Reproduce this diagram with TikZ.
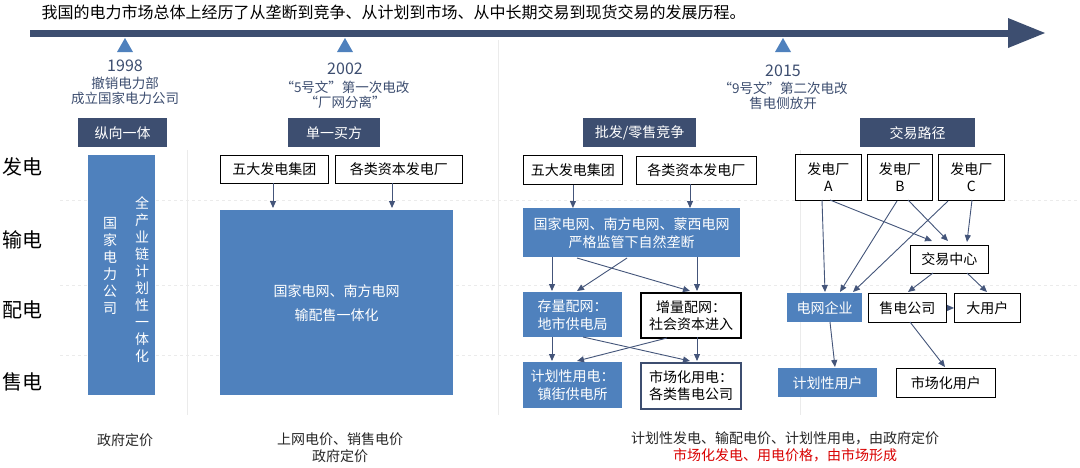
\documentclass[tikz,border=0pt]{standalone}
\usepackage{fontspec}
\setmainfont{Noto Sans CJK SC}
\usetikzlibrary{arrows.meta}
\definecolor{navy}{HTML}{3D4E70}
\definecolor{mblue}{HTML}{4F81BD}
\definecolor{arr}{HTML}{44557A}
\tikzset{
 x=1pt,y=-1pt,
 hdr/.style={fill=navy,text=white,font=\fontsize{14}{16}\selectfont,inner sep=0},
 wbox/.style={draw=black,line width=0.9pt,fill=white,font=\fontsize{14}{17}\selectfont,inner sep=0,align=center},
 bbox/.style={fill=mblue,text=white,font=\fontsize{14}{18}\selectfont,inner sep=0,align=center},
 ar/.style={draw=arr,line width=0.9pt,-{Triangle[length=7pt,width=6pt]}},
 lbl/.style={font=\fontsize{14}{16}\selectfont,align=center,text=black!85},
 tl/.style={font=\fontsize{13.5}{15.5}\selectfont,align=center,text=navy},
 row/.style={font=\fontsize{20}{21}\selectfont},
 sep/.style={draw=black!8,line width=0.6pt},
}
\newcommand{\bx}[5]{\node[#1,minimum width=#4-#2,minimum height=#5-#3,anchor=north west] at (#2,#3)}
\begin{document}
\begin{tikzpicture}
\useasboundingbox (0,0) rectangle (1080,467);
\fill[white] (0,0) rectangle (1080,467);
% separators
\draw[sep] (187,150)--(187,415);
\draw[sep] (498,40)--(498,415);
\draw[sep] (800,150)--(800,415);
\draw[sep,dashed] (60,200)--(1080,200);
\draw[sep,dashed] (60,285)--(1080,285);
\draw[sep,dashed] (60,355)--(1080,355);
% title
\node[anchor=west,font=\fontsize{16}{17}\selectfont] (title) at (38,12) {我国的电力市场总体上经历了从垄断到竞争、从计划到市场、从中长期交易到现货交易的发展历程。};
% timeline
\fill[navy] (30,29.5) rectangle (1012,37);
\fill[navy] (1008,18) -- (1045,33) -- (1008,48) -- cycle;
\foreach \x in {125,345,783} \fill[mblue] (\x-8,52)--(\x,38)--(\x+8,52)--cycle;
\node[tl,font=\fontsize{16}{17}\selectfont] (y1) at (125,66) {1998};
\node[tl] (t1) at (125,91) {撤销电力部\\成立国家电力公司};
\node[tl,font=\fontsize{16}{17}\selectfont] (y2) at (345,69) {2002};
\node[tl] (t2) at (345,95) {“5号文”第一次电改\\“厂网分离”};
\node[tl,font=\fontsize{16}{17}\selectfont] (y3) at (783,71) {2015};
\node[tl] (t3) at (783,96) {“9号文”第二次电改\\售电侧放开};
% headers
\bx{hdr}{78}{118}{167}{147} (h1) {纵向一体};
\bx{hdr}{288}{118}{380}{147} (h2) {单一买方};
\bx{hdr}{583}{118}{696}{147} (h3) {批发/零售竞争};
\bx{hdr}{860}{118}{975}{147} (h4) {交易路径};
% row labels
\node[row] (r1) at (22,167) {发电};
\node[row] (r2) at (22,240) {输电};
\node[row] (r3) at (22,310) {配电};
\node[row] (r4) at (22,382) {售电};
% col1
\bx{bbox}{88}{155}{155}{395} (c1) {};
\node[text=white,font=\fontsize{14}{17}\selectfont,align=center] (c1a) at (110,266) {国\\家\\电\\力\\公\\司};
\node[text=white,font=\fontsize{14}{17}\selectfont,align=center] (c1b) at (142,280) {全\\产\\业\\链\\计\\划\\性\\一\\体\\化};
% col2
\bx{wbox}{220}{155}{328}{183} (g1) {五大发电集团};
\bx{wbox}{335}{155}{462}{183} (g2) {各类资本发电厂};
\bx{bbox}{220}{210}{453}{395} (big) {国家电网、南方电网\\[6pt]输配售一体化};
\coordinate (b1) at (273,208); \coordinate (b2) at (392,208);
\draw[ar] (273,183)--(b1);
\draw[ar] (392,183)--(b2);
% col3
\bx{wbox}{523}{155}{622}{184} (p1) {五大发电集团};
\bx{wbox}{636}{156}{756}{184} (p2) {各类资本发电厂};
\bx{bbox}{523}{208}{740}{257} (grid) {国家电网、南方电网、蒙西电网\\严格监管下自然垄断};
\bx{bbox}{523}{292}{622}{337} (s1) {存量配网：\\地市供电局};
\bx{wbox,line width=2.2pt}{640}{292}{740}{337} (s2) {增量配网：\\社会资本进入};
\bx{bbox}{523}{362}{622}{408} (u1) {计划性用电：\\镇街供电所};
\bx{wbox,draw=navy,line width=2.2pt}{640}{362}{740}{408} (u2) {市场化用电：\\各类售电公司};
\draw[ar] (p1.south) -- (p1.south |- grid.north);
\draw[ar] (690,184) -- (690,208);
\draw[ar] (552,257)--(552,291);
\draw[ar] (697,257)--(697,291);
\draw[ar] (627,258)--(577,291);
\draw[ar] (577,258)--(690,291);
\draw[ar] (552,337)--(552,361);
\draw[ar] (697,337)--(697,361);
\draw[ar] (667,338)--(577,361);
\draw[ar] (583,337)--(690,361);
% col4
\bx{wbox}{795}{154}{861}{200} (pa) {发电厂\\A};
\bx{wbox}{867}{154}{932}{200} (pb) {发电厂\\B};
\bx{wbox}{938}{154}{1004}{200} (pc) {发电厂\\C};
\bx{wbox}{910}{245}{988}{273} (tc) {交易中心};
\bx{bbox}{787}{293}{862}{322} (ge) {电网企业};
\bx{wbox}{868}{293}{946}{322} (sc) {售电公司};
\bx{wbox}{954}{293}{1020}{322} (bu) {大用户};
\bx{bbox}{778}{368}{877}{397} (pu) {计划性用户};
\bx{wbox}{896}{368}{995}{397} (mu) {市场化用户};
\draw[ar] (822,200)--(825,292);
\draw[ar] (830,200)--(932,241);
\draw[ar] (897,201)--(840,292);
\draw[ar] (908,200)--(948,241);
\draw[ar] (972,200)--(967,242);
\draw[ar] (948,201)--(853,292);
\draw[ar] (933,273)--(908,292);
\draw[ar] (967,273)--(987,292);
\draw[ar] (sc.east)--(bu.west);
\draw[ar] (830,322)--(835,367);
\draw[ar] (910,322)--(945,367);
% bottom
\node[lbl] (f1) at (125,440) {政府定价};
\node[lbl,font=\fontsize{14}{17}\selectfont] (f2) at (340,448) {上网电价、销售电价\\政府定价};
\node[lbl] (f3) at (785,438) {计划性发电、输配电价、计划性用电，由政府定价};
\node[lbl,text=red!85!black] (f4) at (785,455) {市场化发电、用电价格，由市场形成};
\end{tikzpicture}
\end{document}
